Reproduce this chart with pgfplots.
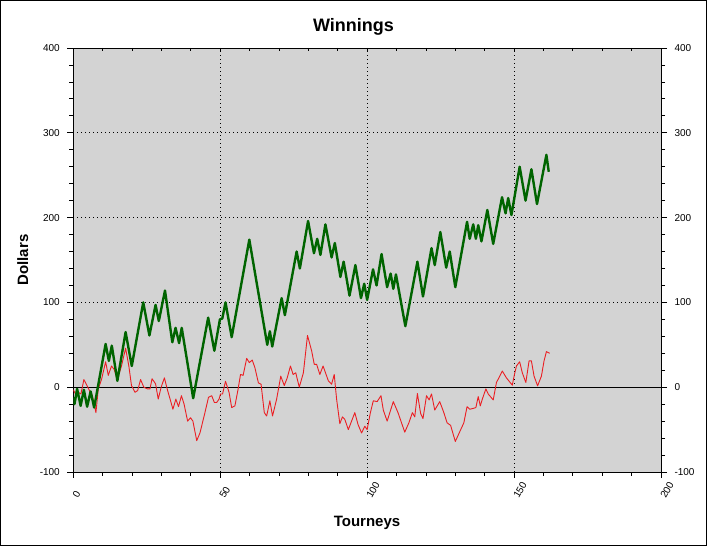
\documentclass[border=0pt]{standalone}
\usepackage{pgfplots}
\pgfplotsset{compat=1.18}
\usepackage{fontspec}
\setmainfont{Liberation Sans}
\definecolor{plotbg}{RGB}{211,211,211}
\definecolor{wgreen}{RGB}{0,100,0}
\definecolor{wred}{RGB}{235,30,35}
\pgfplotsset{
  common/.style={
    at={(73.3pt,74pt)}, anchor=south west,
    scale only axis, width=587.7pt, height=424pt,
    xmin=0, xmax=200, ymin=-100, ymax=400,
    ticklabel style={font=\fontsize{10}{11}\selectfont},
    tick style={black, line width=0.8pt},
  }
}
\begin{document}
\begin{tikzpicture}[x=1pt,y=1pt]
\useasboundingbox (0,0) rectangle (707,546);
\draw[line width=1pt] (0.5,0.5) rectangle (706.5,545.5);
\node[font=\bfseries\fontsize{18}{20}\selectfont, anchor=base] at (353.5,514) {Winnings};
\node[font=\bfseries\fontsize{15}{17}\selectfont, anchor=base] at (367,19) {Tourneys};
\node[font=\bfseries\fontsize{15}{17}\selectfont, anchor=base, rotate=90] at (28,286) {Dollars};
% main axis
\begin{axis}[common,
  axis background/.style={fill=plotbg},
  axis line style={black, line width=0.8pt},
  xtick={0,50,100,150,200}, xticklabels={0,50,100,150,200},
  minor xtick={10,20,30,40,60,70,80,90,110,120,130,140,160,170,180,190},
  ytick={-100,0,100,200,300,400}, yticklabels={-100,0,100,200,300,400},
  minor ytick={-80,-60,-40,-20,20,40,60,80,120,140,160,180,220,240,260,280,320,340,360,380},
  xtick pos=bottom, ytick pos=left,
  tick align=outside, major tick length=6pt, minor tick length=4pt,
  grid=major, major grid style={black, line width=0.8pt, dash pattern=on 0.8pt off 3.2pt},
  xticklabel style={xshift=3pt, yshift=-24pt, rotate=60, anchor=base west},
  yticklabel style={anchor=east, xshift=-4pt},
]
\addplot[black, line width=0.8pt] coordinates {(0,0) (200,0)};
\addplot[wred, line width=0.9pt, line join=round] coordinates {
(0,-3) (0.9,-9) (1.7,-6) (2.6,-8) (3.6,9) (4.8,1) (5.7,-5.5) (6.5,-10) (7.7,-30) (8.5,-2) (9.6,9)
(11.0,30) (11.9,14) (13.0,25) (13.9,21) (15.0,9) (16.4,25) (17.8,46) (18.9,25) (19.8,2) (21.0,-6)
(21.9,-4) (22.9,9) (24.0,0) (25.2,-2) (26.1,-2) (26.8,10) (28.0,4) (28.9,-14) (29.9,0) (31.0,11)
(32.1,-4) (33.1,-16) (33.9,-26) (34.9,-14) (35.8,-23) (36.8,-10) (37.7,-20) (38.9,-40) (39.9,-36)
(40.7,-40) (42.0,-63) (43.1,-54) (44.8,-30) (46.0,-12) (47.1,-10) (48.0,-18) (48.8,-18) (49.6,-14)
(50.1,-8) (50.8,-8) (51.8,7) (53.0,-6) (53.9,-24) (55.0,-22) (56.1,-2) (56.9,15) (57.8,14)
(59.0,34) (59.9,29) (60.9,32) (61.8,23) (63.0,5) (63.9,3.5) (65.0,-30) (65.8,-34) (66.9,-16)
(67.8,-34) (69.2,-14) (70.6,13) (71.8,2) (72.8,11) (73.9,25) (74.8,15) (75.7,17) (76.9,0)
(78.3,17) (79.7,61) (81.1,43) (82.0,27) (82.8,27) (83.9,15) (85.0,25) (86.8,7.5) (87.9,3.5)
(88.8,15) (89.6,-14) (90.7,-43) (91.6,-35) (92.4,-38) (93.6,-50) (94.7,-40) (95.8,-30) (96.9,-44)
(98.1,-54) (99.2,-46) (100.0,-50) (101.1,-30) (102.1,-16) (103.4,-17) (104.7,-10) (105.5,-27)
(106.8,-40) (108.9,-17) (110.5,-30) (112.8,-53) (114.2,-42) (115.4,-30) (116.2,-35) (117.1,-7.5)
(118.2,-31) (119.0,-37) (120.2,-10) (121.1,-15) (121.9,-8) (123.0,-27) (124.7,-17) (126.1,-30)
(127.2,-42) (128.4,-45) (130.0,-64) (132.9,-42) (134.0,-23) (134.9,-26) (136.1,-25) (137.0,-24)
(137.8,-11) (138.5,-22) (139.2,-14) (140.4,-2) (141.2,-8) (142.9,-15) (144.0,5.5) (146.0,19)
(147.4,11) (149.4,2.4) (150.0,13) (150.8,25) (151.9,30) (152.8,17) (154.0,5.5) (155.1,31)
(155.9,31) (156.8,13) (158.0,1.6) (159.3,13) (160.2,31) (161.0,42) (162.1,40)
};
\addplot[wgreen, line width=2.4pt, line join=round] coordinates {
(0,-12) (0.4,-20) (1.3,-2) (2.5,-22) (3.6,-3) (4.7,-23) (5.9,-5) (7.1,-24)
(11.0,51) (12.1,31) (13.1,49) (15.0,7.5) (17.8,65) (19.9,25) (23.8,100) (25.9,61) (28.0,97)
(29.1,78) (31.2,114) (33.7,53) (34.8,70) (36.0,52) (36.9,70) (40.8,-13) (45.9,82) (48.0,43)
(49.9,80) (50.7,81) (51.8,100) (53.9,59) (59.9,174) (66.0,50) (66.9,66) (67.7,48) (70.9,105)
(72.0,85) (76.0,160) (77.1,140) (79.9,196) (81.9,158) (83.0,175) (84.1,156) (85.8,192) (87.9,153)
(89.0,170) (90.9,130) (92.0,148) (94.0,108) (96.0,144) (97.9,105) (99.0,122) (100.0,103)
(102.0,139) (103.2,120) (104.9,157) (106.8,118) (108.0,134) (108.9,116) (109.8,133) (113.0,72)
(117.1,148) (119.0,107) (121.9,164) (123.0,144) (124.9,183) (126.9,141) (128.1,160) (130.0,118)
(134.0,195) (134.9,175) (136.1,192) (137.0,175) (137.8,191) (138.9,172) (140.9,209) (142.9,169)
(145.9,224) (147.1,205) (148.0,223) (149.1,203) (151.9,260) (153.9,220) (155.9,257) (157.8,216)
(161.0,274) (161.8,254)
};
\end{axis}
% right axis labels and ticks
\begin{axis}[common,
  axis x line=none, axis y line*=right,
  axis line style={black, line width=0.8pt},
  ytick={-100,0,100,200,300,400}, yticklabels={-100,0,100,200,300,400},
  minor ytick={-80,-60,-40,-20,20,40,60,80,120,140,160,180,220,240,260,280,320,340,360,380},
  tick align=outside, major tick length=6pt, minor tick length=4pt,
  yticklabel style={anchor=west, xshift=4pt},
]
\addplot[draw=none] coordinates {(0,0)};
\end{axis}
% top ticks
\begin{axis}[common,
  axis y line=none, axis x line*=top,
  axis line style={black, line width=0.8pt},
  xtick={10,20,...,190}, xticklabels={},
  tick align=inside, major tick length=3.5pt,
]
\addplot[draw=none] coordinates {(0,0)};
\end{axis}
\end{tikzpicture}
\end{document}
